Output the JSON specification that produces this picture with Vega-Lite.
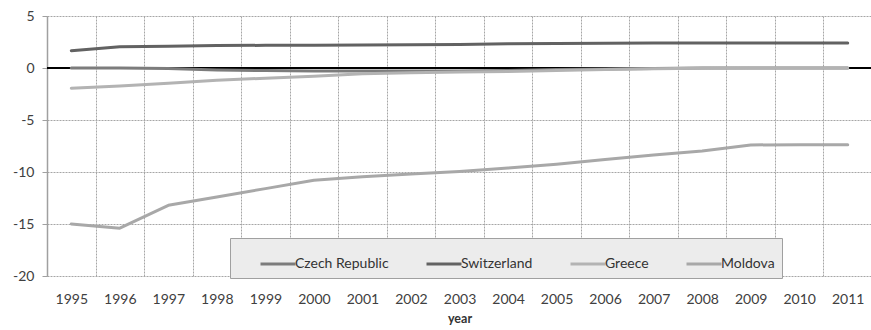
{
  "$schema": "https://vega.github.io/schema/vega-lite/v6.json",
  "width": 825,
  "height": 260,
  "autosize": {"type": "none"},
  "padding": {"left": 47, "top": 16, "right": 0, "bottom": 54},
  "config": {
    "view": {"stroke": null},
    "font": "Lato",
    "axis": {"labelFont": "Lato", "titleFont": "Lato"},
    "legend": {"labelFont": "Lato"}
  },
  "data": {
    "values": [
      {"year": "1995", "country": "Czech Republic", "value": 0.0},
      {"year": "1996", "country": "Czech Republic", "value": 0.0},
      {"year": "1997", "country": "Czech Republic", "value": -0.05},
      {"year": "1998", "country": "Czech Republic", "value": -0.2},
      {"year": "1999", "country": "Czech Republic", "value": -0.25},
      {"year": "2000", "country": "Czech Republic", "value": -0.3},
      {"year": "2001", "country": "Czech Republic", "value": -0.3},
      {"year": "2002", "country": "Czech Republic", "value": -0.3},
      {"year": "2003", "country": "Czech Republic", "value": -0.3},
      {"year": "2004", "country": "Czech Republic", "value": -0.25},
      {"year": "2005", "country": "Czech Republic", "value": -0.15},
      {"year": "2006", "country": "Czech Republic", "value": -0.1},
      {"year": "2007", "country": "Czech Republic", "value": -0.05},
      {"year": "2008", "country": "Czech Republic", "value": 0.0},
      {"year": "2009", "country": "Czech Republic", "value": 0.0},
      {"year": "2010", "country": "Czech Republic", "value": 0.0},
      {"year": "2011", "country": "Czech Republic", "value": 0.0},
      {"year": "1995", "country": "Switzerland", "value": 1.66},
      {"year": "1996", "country": "Switzerland", "value": 2.05},
      {"year": "1997", "country": "Switzerland", "value": 2.08},
      {"year": "1998", "country": "Switzerland", "value": 2.16},
      {"year": "1999", "country": "Switzerland", "value": 2.18},
      {"year": "2000", "country": "Switzerland", "value": 2.18},
      {"year": "2001", "country": "Switzerland", "value": 2.2},
      {"year": "2002", "country": "Switzerland", "value": 2.24},
      {"year": "2003", "country": "Switzerland", "value": 2.27},
      {"year": "2004", "country": "Switzerland", "value": 2.32},
      {"year": "2005", "country": "Switzerland", "value": 2.36},
      {"year": "2006", "country": "Switzerland", "value": 2.38},
      {"year": "2007", "country": "Switzerland", "value": 2.4},
      {"year": "2008", "country": "Switzerland", "value": 2.4},
      {"year": "2009", "country": "Switzerland", "value": 2.4},
      {"year": "2010", "country": "Switzerland", "value": 2.4},
      {"year": "2011", "country": "Switzerland", "value": 2.4},
      {"year": "1995", "country": "Greece", "value": -1.95},
      {"year": "1996", "country": "Greece", "value": -1.73},
      {"year": "1997", "country": "Greece", "value": -1.47},
      {"year": "1998", "country": "Greece", "value": -1.18},
      {"year": "1999", "country": "Greece", "value": -0.98},
      {"year": "2000", "country": "Greece", "value": -0.8},
      {"year": "2001", "country": "Greece", "value": -0.55},
      {"year": "2002", "country": "Greece", "value": -0.45},
      {"year": "2003", "country": "Greece", "value": -0.38},
      {"year": "2004", "country": "Greece", "value": -0.33},
      {"year": "2005", "country": "Greece", "value": -0.25},
      {"year": "2006", "country": "Greece", "value": -0.15},
      {"year": "2007", "country": "Greece", "value": -0.08},
      {"year": "2008", "country": "Greece", "value": -0.03},
      {"year": "2009", "country": "Greece", "value": 0.0},
      {"year": "2010", "country": "Greece", "value": 0.0},
      {"year": "2011", "country": "Greece", "value": 0.0},
      {"year": "1995", "country": "Moldova", "value": -15.0},
      {"year": "1996", "country": "Moldova", "value": -15.4},
      {"year": "1997", "country": "Moldova", "value": -13.2},
      {"year": "1998", "country": "Moldova", "value": -12.4},
      {"year": "1999", "country": "Moldova", "value": -11.6},
      {"year": "2000", "country": "Moldova", "value": -10.8},
      {"year": "2001", "country": "Moldova", "value": -10.45},
      {"year": "2002", "country": "Moldova", "value": -10.2},
      {"year": "2003", "country": "Moldova", "value": -9.95},
      {"year": "2004", "country": "Moldova", "value": -9.62},
      {"year": "2005", "country": "Moldova", "value": -9.25},
      {"year": "2006", "country": "Moldova", "value": -8.8},
      {"year": "2007", "country": "Moldova", "value": -8.37},
      {"year": "2008", "country": "Moldova", "value": -7.98},
      {"year": "2009", "country": "Moldova", "value": -7.4},
      {"year": "2010", "country": "Moldova", "value": -7.37},
      {"year": "2011", "country": "Moldova", "value": -7.37}
    ]
  },
  "encoding": {
    "x": {
      "field": "year",
      "type": "ordinal",
      "scale": {"type": "band", "paddingInner": 0, "paddingOuter": 0},
      "axis": {
        "title": "year",
        "titleFontSize": 12.5,
        "titleFontWeight": "bold",
        "titleColor": "#333333",
        "titlePadding": 6,
        "labelAngle": 0,
        "labelFontSize": 14,
        "labelColor": "#404040",
        "labelPadding": 16,
        "tickBand": "extent",
        "ticks": false,
        "domain": false,
        "grid": true,
        "gridColor": "#a6a6a6",
        "gridDash": [2, 1],
        "gridWidth": 1
      }
    }
  },
  "layer": [
    {
      "mark": {"type": "rule", "color": "#000000", "strokeWidth": 2},
      "encoding": {
        "x": null,
        "y": {"datum": 0, "type": "quantitative", "scale": {"domain": [-20, 5], "nice": false}}
      }
    },
    {
      "mark": {"type": "line", "strokeWidth": 3, "strokeCap": "round", "strokeJoin": "round"},
      "encoding": {
        "y": {
          "field": "value",
          "type": "quantitative",
          "scale": {"domain": [-20, 5], "nice": false},
          "axis": {
            "title": null,
            "values": [-20, -15, -10, -5, 0, 5],
            "labelExpr": "toString(datum.value)",
            "labelFontSize": 14,
            "labelColor": "#404040",
            "labelPadding": 8,
            "tickSize": 5,
            "tickColor": "#a0a0a0",
            "domain": true,
            "domainColor": "#a0a0a0",
            "domainWidth": 1.5,
            "grid": true,
            "gridColor": "#a6a6a6",
            "gridDash": [2, 1],
            "gridWidth": 1
          }
        },
        "color": {
          "field": "country",
          "type": "nominal",
          "scale": {
            "domain": ["Czech Republic", "Switzerland", "Greece", "Moldova"],
            "range": ["#7c7c7c", "#626262", "#b3b3b3", "#a8a8a8"]
          },
          "legend": {
            "title": null,
            "orient": "none",
            "legendX": 183,
            "legendY": 222,
            "direction": "horizontal",
            "fillColor": "#ececec",
            "strokeColor": "#a0a0a0",
            "padding": 7,
            "symbolType": "stroke",
            "symbolSize": 1225,
            "symbolStrokeWidth": 3,
            "symbolOffset": 22,
            "labelOffset": -2,
            "columnPadding": 14,
            "labelFontSize": 14,
            "labelColor": "#333333"
          }
        }
      }
    }
  ]
}
